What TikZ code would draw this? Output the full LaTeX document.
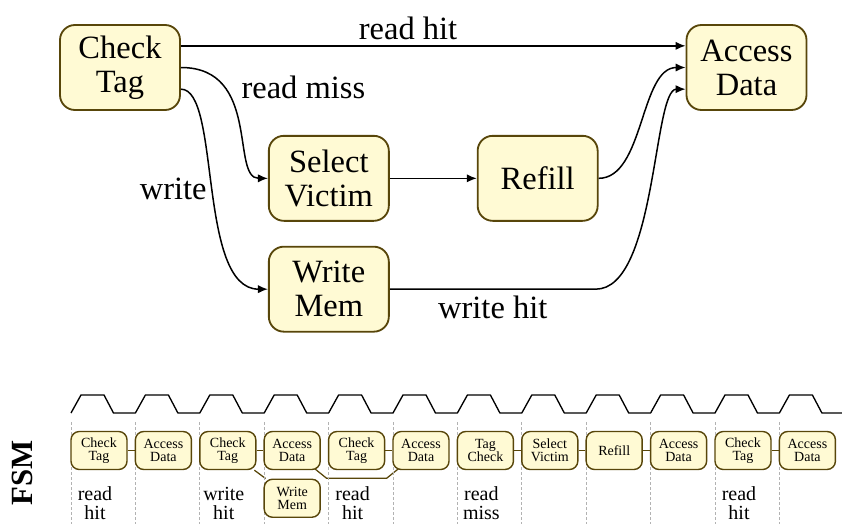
\documentclass[tikz,border=0pt]{standalone}
\usepackage{fontspec}
\setmainfont{Liberation Serif}
\usetikzlibrary{positioning,arrows.meta,backgrounds}
\definecolor{stfill}{RGB}{255,250,212}
\definecolor{stdraw}{RGB}{88,70,10}

\begin{document}
\begin{tikzpicture}[x=0.6pt,y=-0.6pt,auto,node distance=14.4pt and 52.2pt,
    font=\fontsize{19.5}{20.4}\selectfont,
    state/.style={draw=stdraw,fill=stfill,line width=1.1pt,rounded corners=9pt,
      minimum width=72pt,minimum height=51pt,inner sep=2pt,align=center},
    cyc/.style={draw=stdraw,fill=stfill,line width=0.85pt,rounded corners=5pt,
      minimum width=33.6pt,minimum height=22.8pt,inner sep=1pt,align=center,
      font=\fontsize{8.4}{8}\selectfont},
    arr/.style={-{Latex[length=6pt,width=5pt]},line width=0.9pt},
    link/.style={draw=stdraw,line width=0.75pt},
    tick/.style={black!30,line width=0.6pt,dash pattern=on 1.8pt off 1.2pt},
    clk/.style={line width=0.8pt,line join=round},
    note/.style={align=center,font=\fontsize{12}{11.4}\selectfont}]
  \useasboundingbox (0,0) rectangle (842,524);

  % state machine
  \node[state] (ct) at (120,67.5) {Check\\Tag};
  \node[state] (sv) [below right=of ct] {Select\\Victim};
  \node[state] (wm) [below=of sv] {Write\\Mem};
  \node[state] (rf) [right=of sv] {Refill};
  \node[state] (ad) [above right=of rf] {Access\\Data};

  \draw[arr] ([yshift=13pt]ct.east) -- node[pos=0.45] {read hit} ([yshift=13pt]ad.west);
  \draw[arr] (ct.east) to[out=0,in=180,out looseness=1.46,in looseness=0.68]
    node[pos=0.27,right=6pt] {read miss} (sv.west);
  \draw[arr] ([yshift=-13pt]ct.east) to[out=0,in=180,out looseness=0.47,in looseness=0.83]
    node[left,pos=0.5] {write} (wm.west);
  \draw[arr] (sv) -- (rf);
  \draw[arr] (rf.east) to[out=0,in=180,looseness=0.83] (ad.west);
  \draw[arr] (wm.east) -- node[below] {write hit} ++(206,0)
    to[out=0,in=180,out looseness=0.71,in looseness=0.38] ([yshift=-13pt]ad.west);

  % timeline
  \draw[clk] (71,413) foreach \i in {1,...,12} { -- ++(10,-18) -- ++(23,0) -- ++(9.5,18) -- ++(21.9,0) };
  \foreach \i in {0,...,11}
    \draw[tick] ({71+64.4*\i},422) -- ++(0,102);

  \node[font=\bfseries\fontsize{18.5}{18}\selectfont,rotate=90] (fsm) at (22.5,472.5) {FSM};

  \foreach \i/\txt in {1/{Check\\Tag},2/{Access\\Data},3/{Check\\Tag},4/{Access\\Data},
      5/{Check\\Tag},6/{Access\\Data},7/{Tag\\Check},8/{Select\\Victim},9/Refill,
      10/{Access\\Data},11/{Check\\Tag},12/{Access\\Data}}
    \node[cyc] (s\i) at ({34.6+64.4*\i},450.5) {\txt};
  \node[cyc] (wmem) [below=5pt of s4] {Write\\Mem};

  \foreach \i/\txt in {0/{read\\hit},2/{write\\hit},4/{read\\hit},6/{read\\miss},10/{read\\hit}}
    \node[note] (n\i) at ({95+64.4*\i},503.5) {\txt};

  \begin{scope}[on background layer]
    \foreach \a/\b in {s1/s2,s3/s4,s5/s6,s7/s8,s8/s9,s9/s10,s11/s12,s3/wmem}
      \draw[link] (\a) -- (\b);
    \draw[link] (s4.center) -- ++(34.4,27.8) -- ([shift={(-34.4,27.8)}]s6.center) -- (s6.center);
  \end{scope}
\end{tikzpicture}
\end{document}
